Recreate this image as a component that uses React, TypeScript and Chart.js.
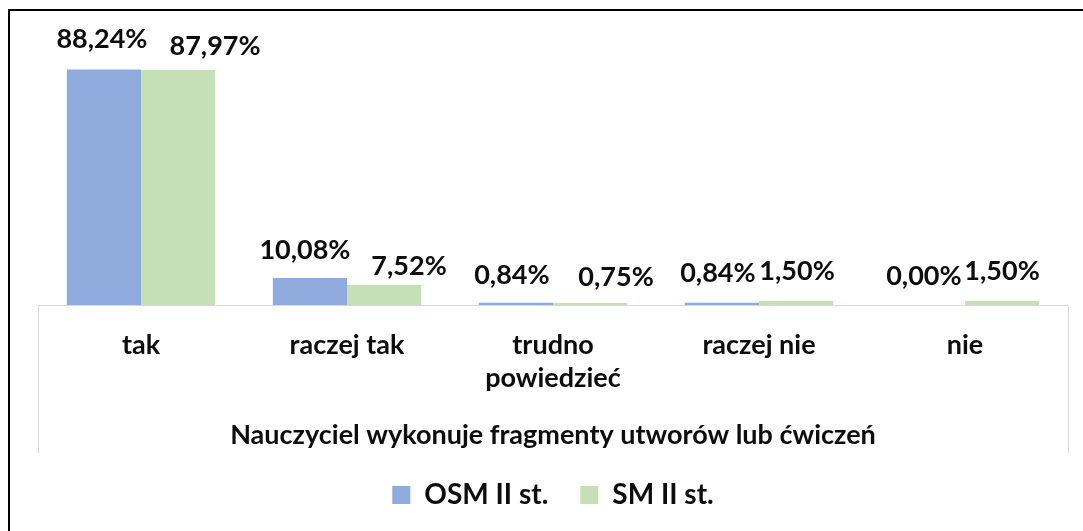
import React, { useEffect, useRef } from "react";
import { Chart, registerables } from "chart.js";

Chart.register(...registerables);

const categories: (string | string[])[] = ["tak", "raczej tak", ["trudno", "powiedzieć"], "raczej nie", "nie"];
const osmValues = [88.24, 10.08, 0.84, 0.84, 0.0];
const smValues = [87.97, 7.52, 0.75, 1.5, 1.5];
const seriesNames = ["OSM II st.", "SM II st."];
const axisTitle = "Nauczyciel wykonuje fragmenty utworów lub ćwiczeń";

const FONT = "Lato, 'Open Sans', sans-serif";
const TEXT = "#0d0d0d";

// label nudges (dx, dy) per series, mimicking Excel's label placement
const labelNudges = [
  [[-2, -3], [-5, -1], [-4, 0], [-4, -2], [-4, -2]],
  [[37, 3], [25, 8], [26, 1], [1, -3], [0, -3]],
];

const fmt = (v: number) => v.toFixed(2).replace(".", ",") + "%";

const decorPlugin = {
  id: "decor",
  beforeDraw(chart: any) {
    const { ctx, chartArea } = chart;
    ctx.save();
    ctx.strokeStyle = "#d9d9d9";
    ctx.lineWidth = 1;
    const yTop = chartArea.bottom;
    const yBot = chartArea.bottom + 148;
    [chartArea.left, chartArea.right].forEach((x: number) => {
      ctx.beginPath();
      ctx.moveTo(Math.round(x) + 0.5, yTop);
      ctx.lineTo(Math.round(x) + 0.5, yBot);
      ctx.stroke();
    });
    ctx.restore();
  },
  afterDraw(chart: any) {
    const { ctx, width, height } = chart;
    ctx.save();
    ctx.strokeStyle = "#000";
    ctx.lineWidth = 2;
    ctx.beginPath();
    ctx.moveTo(9, height);
    ctx.lineTo(9, 10);
    ctx.lineTo(width, 10);
    ctx.stroke();
    ctx.restore();
  },
};

const labelPlugin = {
  id: "barLabels",
  afterDatasetsDraw(chart: any) {
    const { ctx } = chart;
    ctx.save();
    ctx.font = `bold 27px ${FONT}`;
    ctx.fillStyle = TEXT;
    ctx.textAlign = "center";
    ctx.textBaseline = "middle";
    chart.data.datasets.forEach((ds: any, di: number) => {
      const meta = chart.getDatasetMeta(di);
      meta.data.forEach((el: any, i: number) => {
        const [dx, dy] = labelNudges[di][i];
        ctx.fillText(fmt(ds.data[i]), el.x + dx, el.y - 27 + dy);
      });
    });
    ctx.restore();
  },
};

export default function App() {
  const ref = useRef<HTMLCanvasElement>(null);
  useEffect(() => {
    if (!ref.current) return;
    const chart = new Chart(ref.current, {
      type: "bar",
      data: {
        labels: categories as any,
        datasets: [
          { label: seriesNames[0], data: osmValues, backgroundColor: "#8faadc", categoryPercentage: 0.72, barPercentage: 1 },
          { label: seriesNames[1], data: smValues, backgroundColor: "#c5e0b4", categoryPercentage: 0.72, barPercentage: 1 },
        ],
      },
      options: {
        animation: false,
        responsive: false,
        maintainAspectRatio: false,
        layout: { padding: { left: 38, right: 15, top: 38, bottom: 12 } },
        plugins: {
          legend: {
            position: "bottom",
            labels: {
              boxWidth: 18,
              boxHeight: 18,
              padding: 32,
              color: TEXT,
              font: { family: FONT, size: 28, weight: "bold" },
            },
          },
          tooltip: { enabled: false },
        },
        scales: {
          x: {
            grid: { display: false, drawTicks: false },
            border: { display: true, color: "#d9d9d9", width: 1 },
            ticks: {
              color: TEXT,
              padding: 24,
              maxRotation: 0,
              autoSkip: false,
              font: { family: FONT, size: 27, weight: "bold", lineHeight: 1.22 },
            },
            title: {
              display: true,
              text: axisTitle,
              color: TEXT,
              padding: { top: 0, bottom: 0 },
              font: { family: FONT, size: 27, weight: "bold", lineHeight: 1.0 },
            },
            afterFit: (scale: any) => {
              scale.height = 144;
            },
          },
          y: { display: false, min: 0, max: 100 },
        },
      },
      plugins: [decorPlugin, labelPlugin],
    });
    return () => chart.destroy();
  }, []);
  return (
    <div style={{ position: "fixed", left: 0, top: 0, width: 1083, height: 531, background: "#fff" }}>
      <canvas ref={ref} width={1083} height={531} style={{ width: 1083, height: 531, display: "block" }} />
    </div>
  );
}
